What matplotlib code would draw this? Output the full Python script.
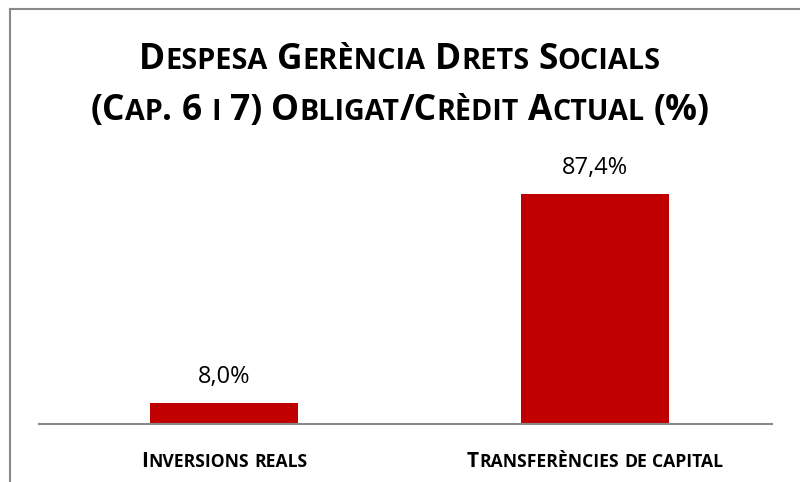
import matplotlib
matplotlib.use("Agg")
import matplotlib.pyplot as plt
from matplotlib.lines import Line2D

# data
categories = ["Inversions reals", "Transferències de capital"]
values = [8.0, 87.4]
value_labels = ["8,0%", "87,4%"]
title_lines = ["Despesa Gerència Drets Socials",
               "(Cap. 6 i 7) Obligat/Crèdit Actual (%)"]

W, H = 800, 482
FONT = "Open Sans"
BAR_COLOR = "#C00000"
GRAY = "#898989"

fig = plt.figure(figsize=(W / 100, H / 100), dpi=100)
renderer = fig.canvas.get_renderer()


def px(x, y):
    # pixel coords (origin top-left) -> figure fraction
    return x / W, 1 - y / H


def text_width(s, size):
    t = fig.text(0, 0, s, fontsize=size, family=FONT, fontweight="bold")
    w = t.get_window_extent(renderer).width
    t.remove()
    return w


def small_caps(xc, y, s, big, ratio=0.76, space_scale=1.0):
    """Draw s in bold small caps centred on pixel x, baseline at pixel y."""
    small = big * ratio
    runs = []
    for ch in s:
        if ch == " ":
            runs.append((" ", small))
            continue
        size = small if ch.islower() else big
        txt = ch.upper()
        if runs and runs[-1][1] == size and runs[-1][0] != " ":
            runs[-1] = (runs[-1][0] + txt, size)
        else:
            runs.append((txt, size))
    space = (text_width("H H", big) - text_width("HH", big)) * space_scale
    widths = [space if r == " " else text_width(r, sz) for r, sz in runs]
    x = xc - sum(widths) / 2
    for (r, sz), w in zip(runs, widths):
        if r != " ":
            fx, fy = px(x, y)
            fig.text(fx, fy, r, fontsize=sz, family=FONT, fontweight="bold",
                     ha="left", va="baseline", color="black")
        x += w
    return sum(widths)


# axes placed so baseline sits at y=424 px
ax = fig.add_axes([39 / W, (H - 424) / H, 733 / W, (424 - 150) / H])
x = range(len(categories))
ax.bar(x, values, width=0.40, color=BAR_COLOR)
ax.set_xlim(-0.499, 1.477)
ax.set_ylim(0, 104)
for s in ["top", "left", "right"]:
    ax.spines[s].set_visible(False)
ax.spines["bottom"].set_color(GRAY)
ax.spines["bottom"].set_linewidth(1.5)
ax.set_xticks([])
ax.set_yticks([])

for i, (v, lab) in enumerate(zip(values, value_labels)):
    ax.annotate(lab, (i, v), xytext=(0, 10), textcoords="offset points",
                ha="center", va="bottom", fontsize=17, family=FONT)

# category labels in small caps
for i, cat in enumerate(categories):
    xc = ax.transData.transform((i, 0))[0]
    small_caps(xc, 467, cat, 15, ratio=0.84)

# title
small_caps(400, 69, title_lines[0], 25.5, ratio=0.815)
small_caps(400, 120, title_lines[1], 25.5, ratio=0.81)

# chart frame (partly cropped)
fig.add_artist(Line2D([10 / W, 10 / W], [0, 1 - 9 / H], color=GRAY,
                      lw=1.5, transform=fig.transFigure))
fig.add_artist(Line2D([10 / W, 1], [1 - 9 / H, 1 - 9 / H], color=GRAY,
                      lw=1.5, transform=fig.transFigure))

fig.savefig("out.png", dpi=100)
